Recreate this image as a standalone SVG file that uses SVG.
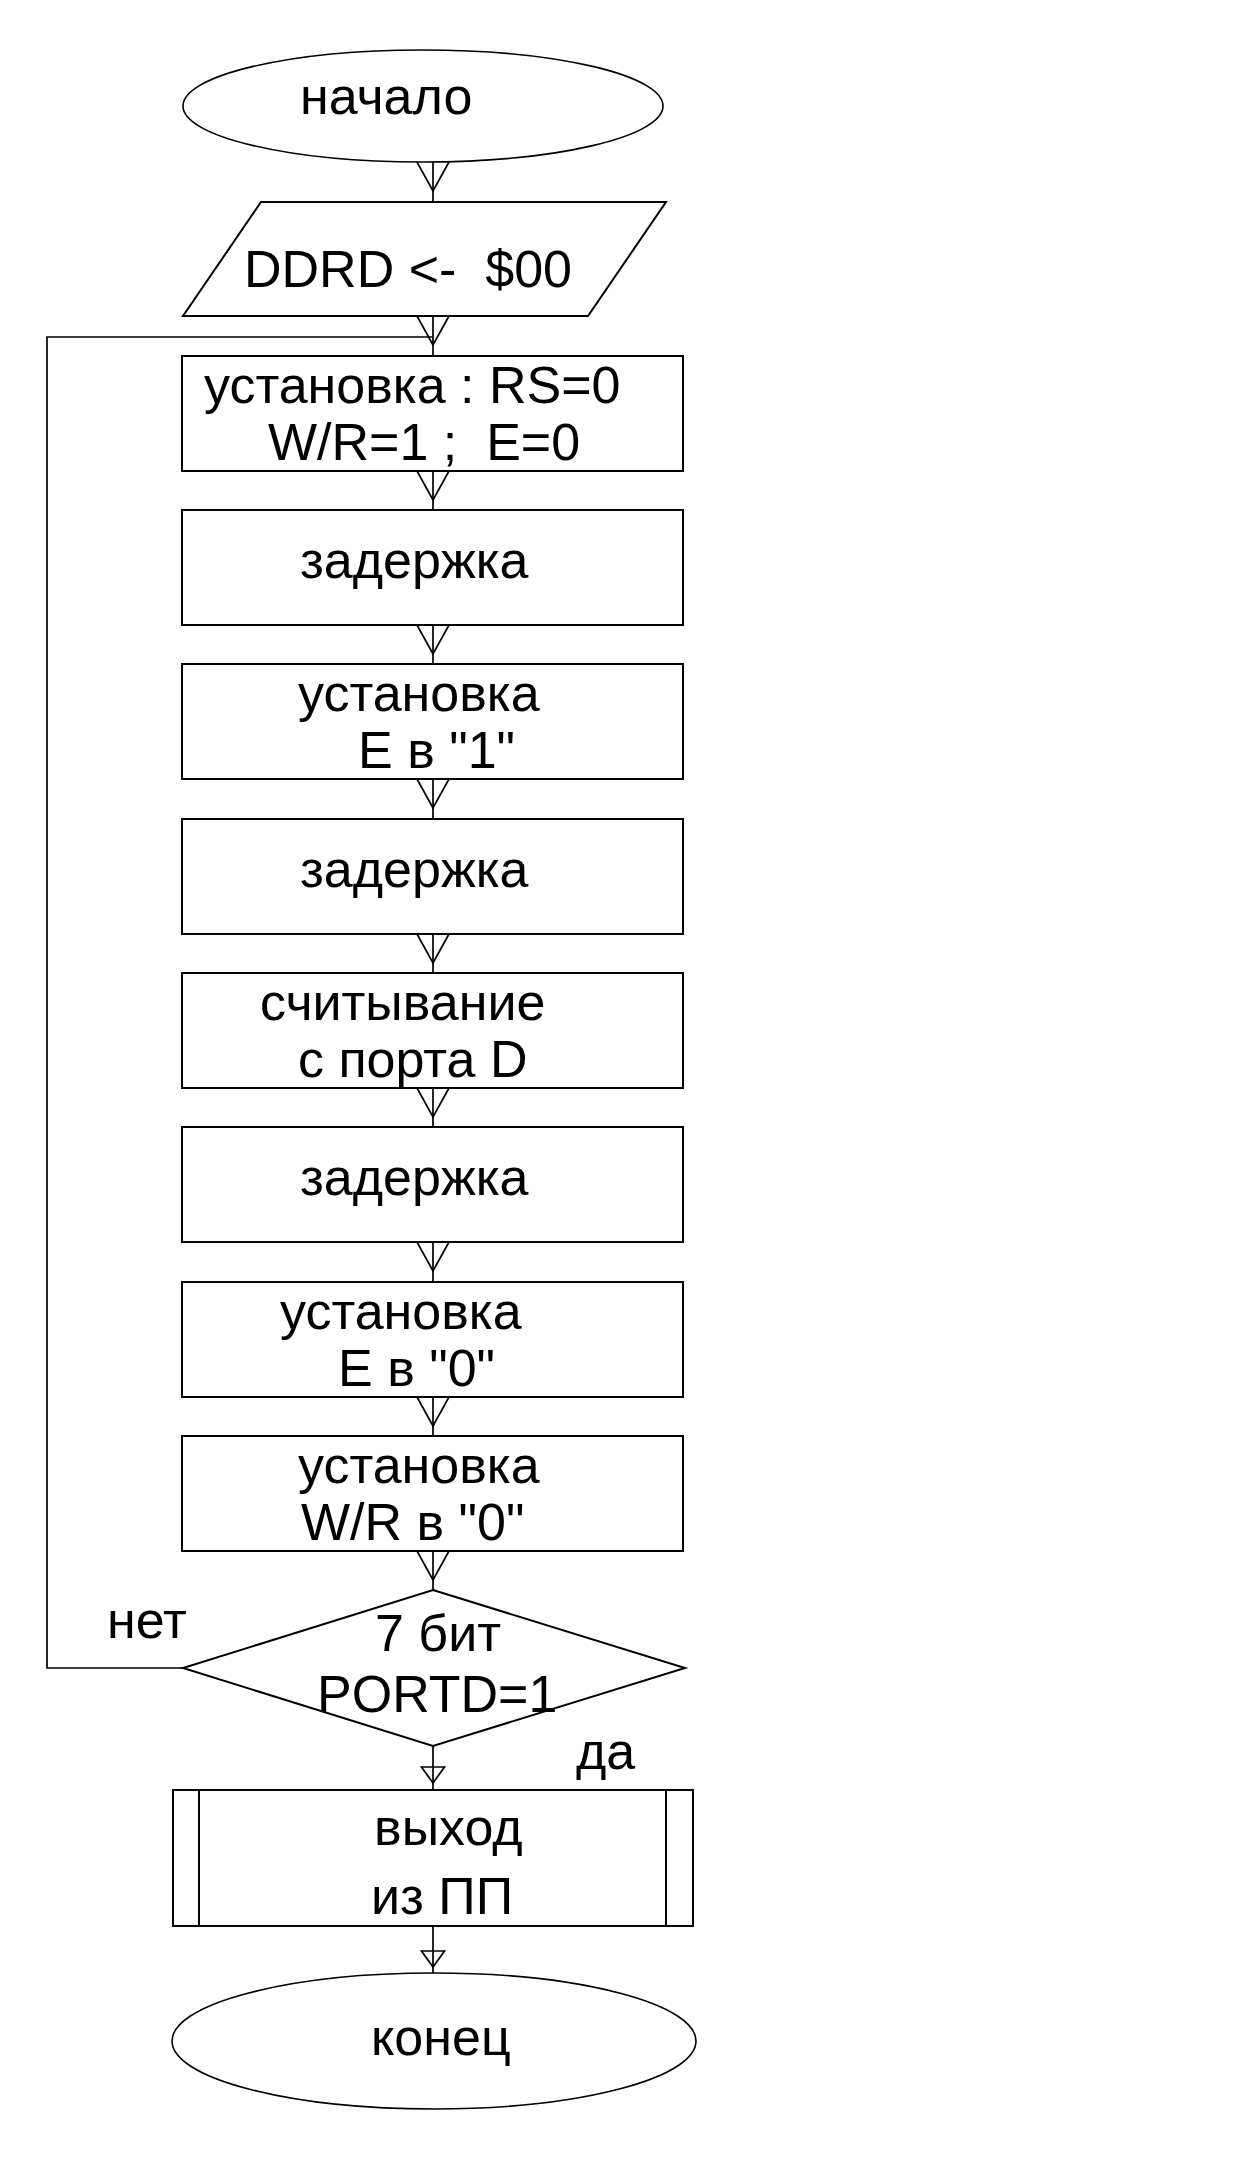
<svg xmlns="http://www.w3.org/2000/svg" xmlns:xlink="http://www.w3.org/1999/xlink" width="1233" height="2158" viewBox="0 0 1233 2158">
<style>
.shape{fill:#fff;stroke:#000;stroke-width:2}
.oval{fill:#fff;stroke:#000;stroke-width:1.6}
.ln{fill:none;stroke:#000;stroke-width:1.7}
text{font-family:"Liberation Sans",Arial,sans-serif;font-size:52px;fill:#000}
</style>
<defs>
<path id="v" class="ln" d="M-16,0 L0,29 L16,0"/>
<path id="tri" class="ln" d="M-11.5,0 L11.5,0 L0,16 Z"/>
</defs>
<rect width="1233" height="2158" fill="#fff"/>

<g id="connectors">
<line class="ln" x1="433" y1="162" x2="433" y2="202"/>
<use xlink:href="#v" x="433" y="162"/>
<line class="ln" x1="433" y1="316" x2="433" y2="356"/>
<use xlink:href="#v" x="433" y="316"/>
<polyline class="ln" points="183,1668 47,1668 47,337 433,337"/>
<line class="ln" x1="433" y1="471" x2="433" y2="510"/>
<use xlink:href="#v" x="433" y="471"/>
<line class="ln" x1="433" y1="625" x2="433" y2="664"/>
<use xlink:href="#v" x="433" y="625"/>
<line class="ln" x1="433" y1="779" x2="433" y2="819"/>
<use xlink:href="#v" x="433" y="779"/>
<line class="ln" x1="433" y1="934" x2="433" y2="973"/>
<use xlink:href="#v" x="433" y="934"/>
<line class="ln" x1="433" y1="1088" x2="433" y2="1127"/>
<use xlink:href="#v" x="433" y="1088"/>
<line class="ln" x1="433" y1="1242" x2="433" y2="1282"/>
<use xlink:href="#v" x="433" y="1242"/>
<line class="ln" x1="433" y1="1397" x2="433" y2="1436"/>
<use xlink:href="#v" x="433" y="1397"/>
<line class="ln" x1="433" y1="1551" x2="433" y2="1590"/>
<use xlink:href="#v" x="433" y="1551"/>
<line class="ln" x1="433" y1="1746" x2="433" y2="1790"/>
<use xlink:href="#tri" x="433" y="1767"/>
<line class="ln" x1="433" y1="1926" x2="433" y2="1973"/>
<use xlink:href="#tri" x="433" y="1951"/>
</g>

<g id="start">
<ellipse class="oval" cx="423" cy="106" rx="240" ry="56"/>
<text x="300" y="114">начало</text>
</g>

<g id="ddrd">
<polygon class="shape" points="261,202 666,202 588,316 183,316"/>
<text x="244" y="287" xml:space="preserve">DDRD &lt;-  $00</text>
</g>

<g id="box1">
<rect class="shape" x="182" y="356" width="501" height="115"/>
<text x="204" y="403">установка : RS=0</text>
<text x="268" y="460" xml:space="preserve">W/R=1 ;  E=0</text>
</g>

<g id="box2">
<rect class="shape" x="182" y="510" width="501" height="115"/>
<text x="300" y="578">задержка</text>
</g>

<g id="box3">
<rect class="shape" x="182" y="664" width="501" height="115"/>
<text x="298" y="711">установка</text>
<text x="358" y="768">E в "1"</text>
</g>

<g id="box4">
<rect class="shape" x="182" y="819" width="501" height="115"/>
<text x="300" y="887">задержка</text>
</g>

<g id="box5">
<rect class="shape" x="182" y="973" width="501" height="115"/>
<text x="260" y="1020">считывание</text>
<text x="298" y="1077">с порта D</text>
</g>

<g id="box6">
<rect class="shape" x="182" y="1127" width="501" height="115"/>
<text x="300" y="1195">задержка</text>
</g>

<g id="box7">
<rect class="shape" x="182" y="1282" width="501" height="115"/>
<text x="280" y="1329">установка</text>
<text x="338" y="1386">E в "0"</text>
</g>

<g id="box8">
<rect class="shape" x="182" y="1436" width="501" height="115"/>
<text x="298" y="1483">установка</text>
<text x="301" y="1540">W/R в "0"</text>
</g>

<g id="decision">
<polygon class="shape" points="433,1590 685,1668 433,1746 183,1668"/>
<text x="375" y="1651">7 бит</text>
<text x="317" y="1712">PORTD=1</text>
<text x="107" y="1638">нет</text>
<text x="576" y="1769">да</text>
</g>

<g id="exit">
<rect class="shape" x="173" y="1790" width="520" height="136"/>
<line class="shape" x1="199" y1="1790" x2="199" y2="1926"/>
<line class="shape" x1="666" y1="1790" x2="666" y2="1926"/>
<text x="374" y="1845">выход</text>
<text x="371" y="1914">из ПП</text>
</g>

<g id="end">
<ellipse class="oval" cx="434" cy="2041" rx="262" ry="68"/>
<text x="371" y="2055">конец</text>
</g>
</svg>
